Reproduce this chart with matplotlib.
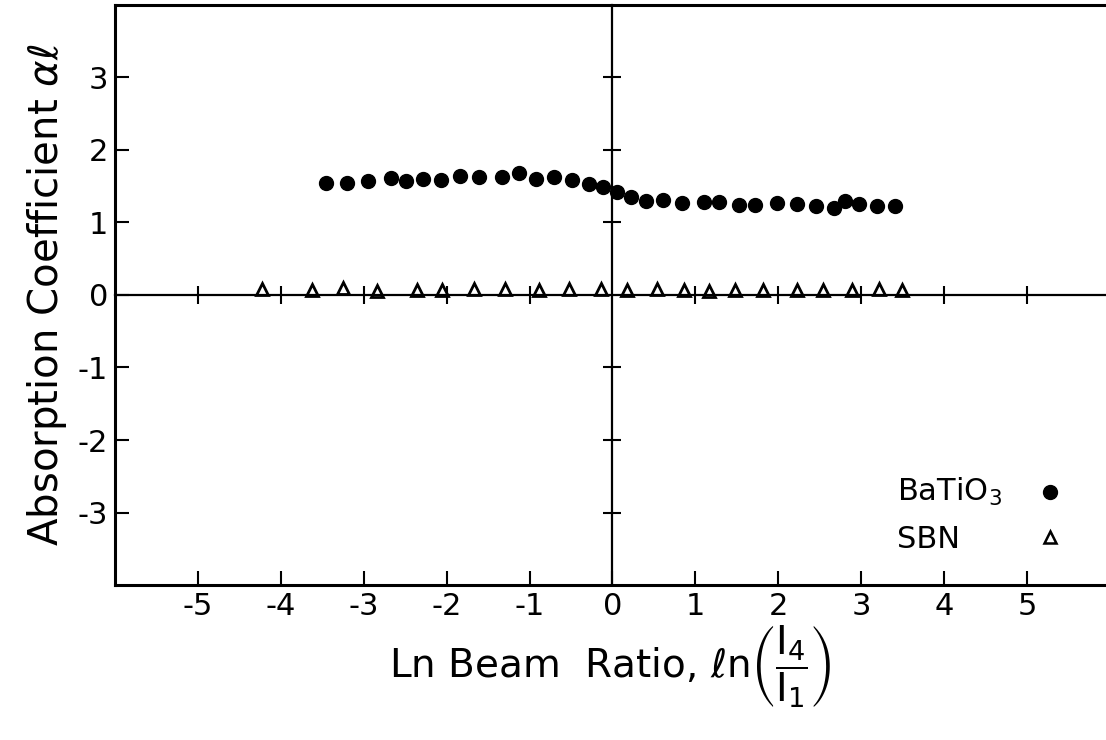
import numpy as np
import matplotlib.pyplot as plt

# ===============================
# DATA
# ===============================
batio3_x = [-3.46, -3.20, -2.95, -2.67, -2.49, -2.28, -2.07, -1.84, -1.61, -1.33,
            -1.13, -0.92, -0.71, -0.49, -0.28, -0.11, 0.06, 0.22, 0.41, 0.61,
            0.84, 1.10, 1.29, 1.53, 1.72, 1.98, 2.23, 2.46, 2.67, 2.81,
            2.98, 3.19, 3.41]
batio3_y = [1.54, 1.54, 1.57, 1.61, 1.57, 1.60, 1.58, 1.64, 1.62, 1.62,
            1.68, 1.60, 1.62, 1.58, 1.53, 1.49, 1.42, 1.35, 1.29, 1.31,
            1.27, 1.28, 1.28, 1.24, 1.24, 1.27, 1.25, 1.22, 1.20, 1.29,
            1.25, 1.22, 1.22]

sbn_x = [-4.23, -3.63, -3.25, -2.84, -2.36, -2.06, -1.67, -1.30, -0.89, -0.52,
         -0.14, 0.17, 0.54, 0.86, 1.16, 1.48, 1.82, 2.23, 2.54, 2.89,
         3.22, 3.49]
sbn_y = [0.08, 0.07, 0.10, 0.06, 0.07, 0.07, 0.08, 0.08, 0.07, 0.08,
         0.08, 0.07, 0.08, 0.07, 0.06, 0.07, 0.07, 0.07, 0.07, 0.07,
         0.08, 0.07]

x_ticks = [-5, -4, -3, -2, -1, 0, 1, 2, 3, 4, 5]
x_tick_labels = ['-5', '-4', '-3', '-2', '-1', '0', '1', '2', '3', '4', '5']
y_ticks = [-3, -2, -1, 0, 1, 2, 3]
y_tick_labels = ['-3', '-2', '-1', '0', '1', '2', '3']

legend_names = [r'BaTiO$_3$', 'SBN']

# ===============================
# FIGURE
# ===============================
plt.rcParams['font.family'] = ['DejaVu Sans']
plt.rcParams['mathtext.fontset'] = 'dejavusans'

fig = plt.figure(figsize=(11.06, 7.4), dpi=100)
pos = [0.104, 0.21, 0.895, 0.783]
ax = fig.add_axes(pos)

xlim = (-6.0, 5.94)
ylim = (-3.99, 3.99)

ax.plot(batio3_x, batio3_y, 'o', color='black', markersize=10, zorder=3)
ax.plot(sbn_x, sbn_y, '^', markerfacecolor='white', markeredgecolor='black',
        markersize=9, markeredgewidth=2, zorder=3)

ax.set_xlim(*xlim)
ax.set_ylim(*ylim)
for s in ax.spines.values():
    s.set_linewidth(2.2)
ax.spines['right'].set_visible(False)

ax.set_xticks(x_ticks)
ax.set_xticklabels(x_tick_labels, fontsize=22)
ax.set_yticks(y_ticks)
ax.set_yticklabels(y_tick_labels, fontsize=22)
ax.tick_params(direction='in', length=10, width=1.5, pad=5)

ax.set_xlabel(r'Ln Beam  Ratio, $\ell\mathrm{n}\left(\dfrac{\mathrm{I}_4}{\mathrm{I}_1}\right)$',
              fontsize=28, labelpad=2)
ax.set_ylabel(r'Absorption Coefficient $\alpha\ell$', fontsize=29, labelpad=6)

# ---------- axes through the origin ----------
ax0 = fig.add_axes(pos)
ax0.set_xlim(*xlim)
ax0.set_ylim(*ylim)
ax0.patch.set_visible(False)
ax0.spines['left'].set_position(('data', 0))
ax0.spines['bottom'].set_position(('data', 0))
ax0.spines['right'].set_visible(False)
ax0.spines['top'].set_visible(False)
ax0.spines['left'].set_linewidth(1.6)
ax0.spines['bottom'].set_linewidth(1.6)
ax0.set_xticks([t for t in x_ticks if t != 0])
ax0.set_yticks([t for t in y_ticks if t != 0])
ax0.tick_params(direction='inout', length=13, width=1.5,
                labelbottom=False, labelleft=False)

# ---------- legend ----------
ax.text(3.43, -2.71, legend_names[0], fontsize=22, va='center', ha='left')
ax.text(3.43, -3.37, legend_names[1], fontsize=22, va='center', ha='left')
ax.plot([5.28], [-2.71], 'o', color='black', markersize=10)
ax.plot([5.28], [-3.33], '^', markerfacecolor='white', markeredgecolor='black',
        markersize=8, markeredgewidth=1.8)

fig.savefig('out.png', dpi=100)
